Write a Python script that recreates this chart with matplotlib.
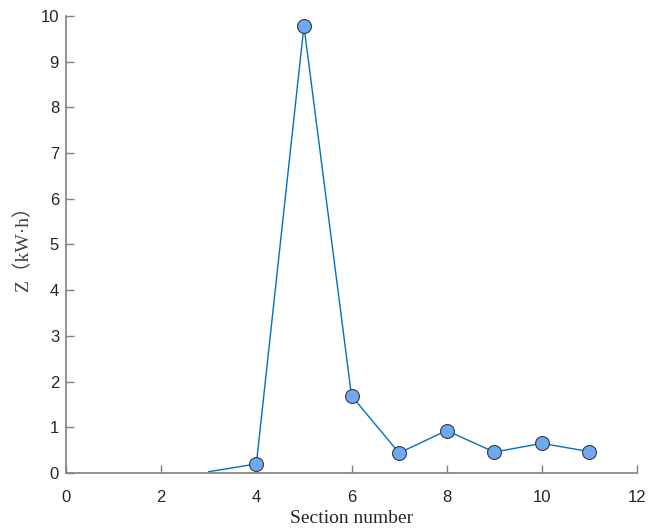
import matplotlib.pyplot as plt

# section numbers and energy values
sections = [3, 4, 5, 6, 7, 8, 9, 10, 11]
z_values = [0.03, 0.2, 9.78, 1.69, 0.44, 0.93, 0.46, 0.65, 0.47]

# only sections 4..11 carry a marker
marker_sections = sections[1:]
marker_values = z_values[1:]

xticks = [0, 2, 4, 6, 8, 10, 12]
yticks = list(range(0, 11))

fig = plt.figure(figsize=(6.54, 5.28), dpi=100)
ax = fig.add_axes([0.101, 0.104, 0.873, 0.866])

ax.plot(sections, z_values, color="#0072BD", linewidth=1.0, zorder=2)
ax.plot(marker_sections, marker_values, linestyle="none", marker="o",
        markersize=10, markerfacecolor="#71A8F2", markeredgecolor="#3a3a3a",
        markeredgewidth=0.8, zorder=3)

ax.set_xlim(0, 12)
ax.set_ylim(0, 10)
ax.set_xticks(xticks)
ax.set_yticks(yticks)

# matlab-like axes: only left and bottom, ticks pointing inward
ax.spines["top"].set_visible(False)
ax.spines["right"].set_visible(False)
for s in ["left", "bottom"]:
    ax.spines[s].set_color("#808080")
    ax.spines[s].set_linewidth(1.2)
ax.tick_params(direction="in", length=6, width=1.0, color="#808080",
               labelsize=12, labelcolor="#262626")
ax.tick_params(axis="x", pad=12)
ax.tick_params(axis="y", pad=5)
for lab in ax.get_xticklabels() + ax.get_yticklabels():
    lab.set_fontfamily("Liberation Sans")

ax.set_xlabel("Section number", fontsize=14, family="Liberation Serif",
              color="#262626", labelpad=4)
ax.set_ylabel("Z（kW·h）", fontsize=14,
              family=["Liberation Serif", "Noto Sans CJK SC"],
              color="#404040", labelpad=6)

fig.savefig("out.png", dpi=100)
